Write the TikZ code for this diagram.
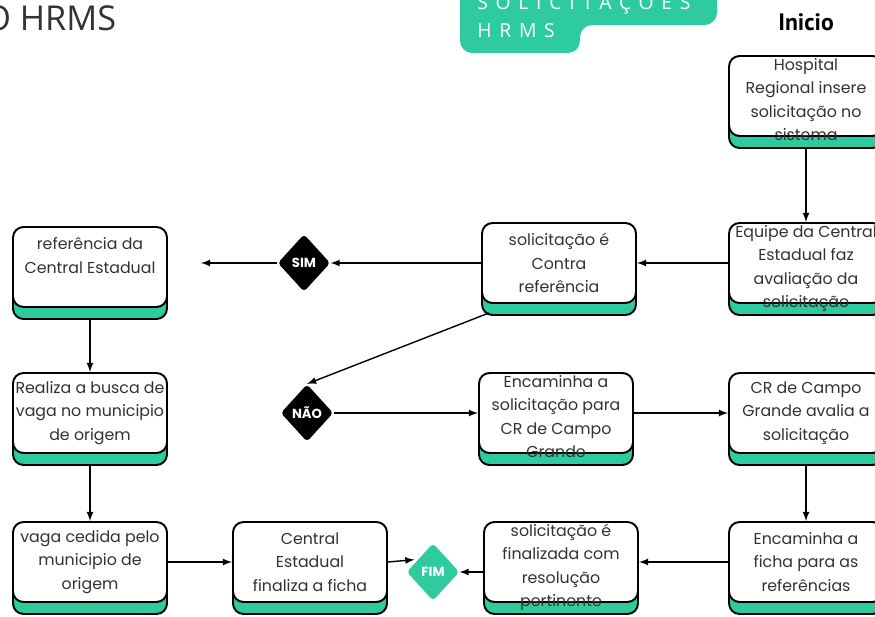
\documentclass[tikz,border=0pt]{standalone}
\usepackage{fontspec}
\setmainfont{Poppins}
\newfontfamily\titulofont{Open Sans}
\newfontfamily\faixafont[LetterSpace=40]{Open Sans}
\newfontfamily\iniciofont{PT Sans}
\usetikzlibrary{shapes.geometric, shadows}
\definecolor{verde}{RGB}{46,203,158}
\definecolor{texto}{RGB}{50,50,50}

\begin{document}
\begin{tikzpicture}[x=0.02cm, y=-0.02cm,
		cartao/.style={draw=black, line width=1.1pt, fill=white, rounded corners=6pt, inner sep=0pt,
			text=texto, font=\fontsize{9}{13.4}\selectfont,
			general shadow={shadow yshift=-0.24cm, fill=verde, draw=black, line width=1.1pt},
			execute at end node={\end{minipage}}},
		caixa/.style={cartao,
			execute at begin node={\begin{minipage}[c][1.6cm][c]{3.08cm}\centering}},
		quatro/.style={cartao,
			execute at begin node={\begin{minipage}[c][1.6cm][t]{3.08cm}\centering\rule{0pt}{8pt}}},
		losango/.style={diamond, fill=black, text=white, rounded corners=2pt, inner sep=0pt,
			minimum width=1.05cm, minimum height=1.15cm, font=\bfseries\fontsize{7.5}{8}\selectfont},
		seta/.style={-latex, line width=0.8pt, black}]
			\useasboundingbox (0,0) rectangle (875,617);
			% cabecalho
			\node[font=\titulofont\fontsize{19.5}{19.5}\selectfont, anchor=base west, inner sep=0pt, text=texto] (titulo) at (-16,31) {O HRMS};
			\fill[verde, rounded corners=7pt] (460,-15) -- (717,-15) -- (717,25) -- (580,25) -- (580,53) -- (460,53) -- cycle;
			\node[font=\faixafont\fontsize{11}{11}\selectfont, text=white, anchor=base west, inner sep=0pt] (faixa1) at (477,10) {SOLICITAÇÕES};
			\node[font=\faixafont\fontsize{11}{11}\selectfont, text=white, anchor=base west, inner sep=0pt] (faixa2) at (477,38) {HRMS};
			\node[font=\iniciofont\bfseries\fontsize{13.5}{13.5}\selectfont] (inicio) at (806,22) {Inicio};
			% caixas
			\node[quatro] (hosp) at (806,96) {Hospital\\Regional insere\\solicitação no\\sistema};
			\node[quatro] (equipe) at (806,263) {Equipe da Central\\Estadual faz\\avaliação da\\solicitação};
			\node[caixa] (contra) at (559,263) {solicitação é\\Contra\\referência};
			\node[caixa] (refce) at (90,267) {referência da\\Central Estadual\\\mbox{}};
			\node[quatro] (encam) at (556,413) {Encaminha a\\solicitação para\\CR de Campo\\Grande};
			\node[caixa] (crcg) at (806,413) {CR de Campo\\Grande avalia a\\solicitação};
			\node[caixa] (realiza) at (90,413) {Realiza a busca de\\vaga no municipio\\de origem};
			\node[caixa] (vaga) at (90,562) {vaga cedida pelo\\municipio de\\origem};
			\node[caixa] (centfin) at (310,562) {Central\\Estadual\\finaliza a ficha};
			\node[quatro] (finaliz) at (561,562) {solicitação é\\finalizada com\\resolução\\pertinente};
			\node[caixa] (encficha) at (806,562) {Encaminha a\\ficha para as\\referências};
			% decisoes
			\node[losango] (sim) at (304,263) {SIM};
			\node[losango] (nao) at (307,413) {NÃO};
			\node[losango, fill=verde] (fim) at (433,572) {FIM};
			% setas
			\draw[seta] (hosp.south) ++(0,12) -- (equipe.north);
			\draw[seta] (equipe.west) -- (contra.east);
			\draw[seta] (contra.west) -- (sim.east);
			\draw[seta, shorten >=0.66cm] (sim.west) -- (sim.west -| refce.east);
			\draw[seta] ([xshift=0.16cm, yshift=-0.18cm]contra.south west) -- (nao.north);
			\draw[seta] (nao.east) -- (encam.west);
			\draw[seta] (encam.east) -- (crcg.west);
			\draw[seta] (crcg.south) ++(0,12) -- (encficha.north);
			\draw[seta] (encficha.west) -- (finaliz.east);
			\draw[seta] (fim.east -| finaliz.west) -- (fim.east);
			\draw[seta, shorten >=2pt] (centfin.east) -- (fim.140);
			\draw[seta] (vaga.east) -- (centfin.west);
			\draw[seta] (realiza.south) ++(0,12) -- (vaga.north);
			\draw[seta] (refce.south) ++(0,12) -- (realiza.north);
		\end{tikzpicture}
\end{document}
